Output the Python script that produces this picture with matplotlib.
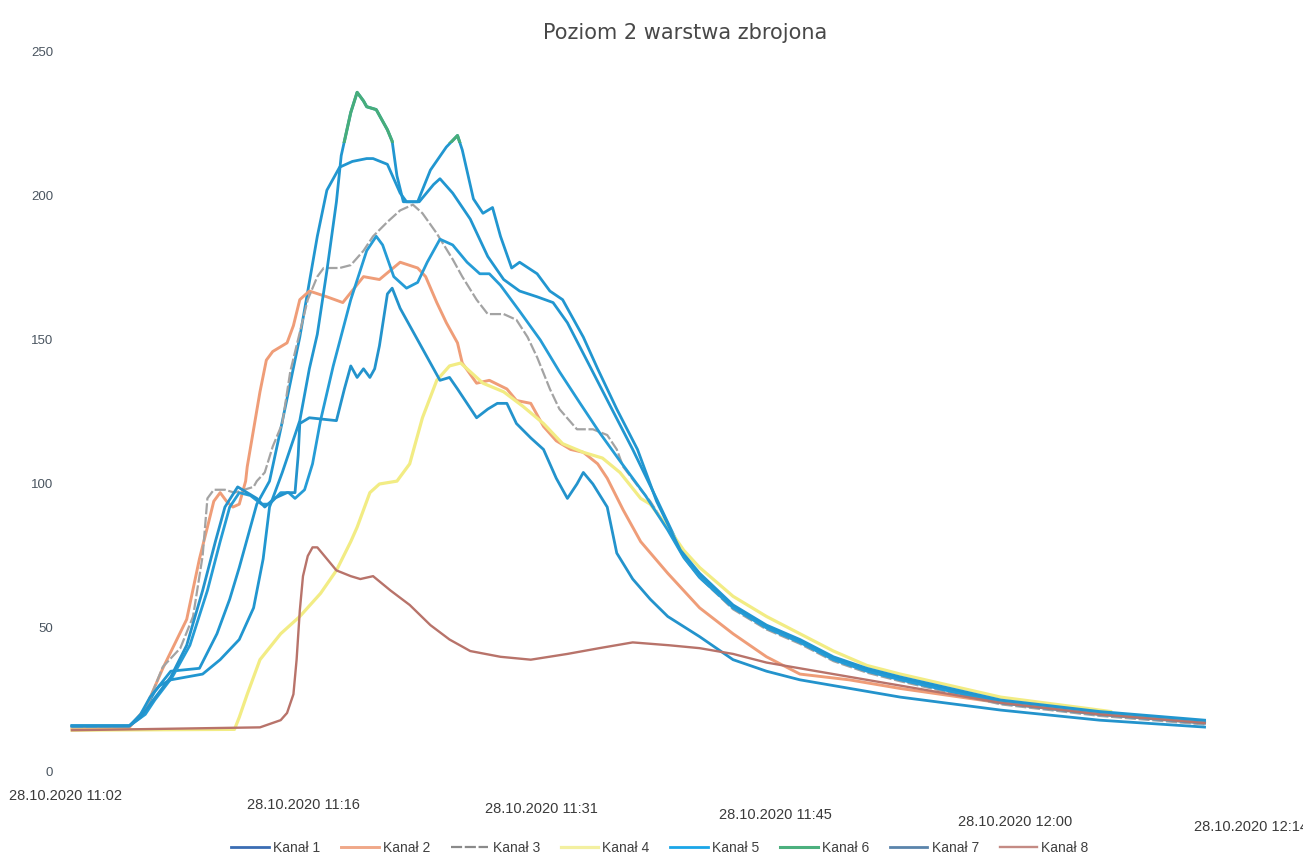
import matplotlib
matplotlib.use("Agg")
import matplotlib.pyplot as plt
import matplotlib.transforms as mtransforms
from matplotlib.patches import Rectangle

plt.rcParams['font.family'] = ['Liberation Sans', 'DejaVu Sans']

title = "Poziom 2 warstwa zbrojona"
series_names = ["Kanał 1", "Kanał 2", "Kanał 3", "Kanał 4", "Kanał 5", "Kanał 6", "Kanał 7", "Kanał 8"]

# time axis in minutes after the first sample (11:02); category labels as printed
tick_minutes = [-0.38, 14.56, 29.44, 44.19, 59.2, 74.0]
tick_labels = ["28.10.2020 11:02", "28.10.2020 11:16", "28.10.2020 11:31",
               "28.10.2020 11:45", "28.10.2020 12:00", "28.10.2020 12:14"]
y_ticks = [0, 50, 100, 150, 200, 250]

# Kanał 1
k1_t = [0, 3.6, 4.4, 5.2, 6.2, 8.0, 9.1, 9.9, 10.5, 11.2, 11.6, 12.4, 13.1, 14.3, 15.4, 16.0, 16.8, 17.6,
        18.5, 18.9, 19.8, 20.6, 21.0, 21.8, 22.7, 23.1, 23.9, 25.0, 26.1, 27.1, 28.1, 29.2, 30.2, 31.1, 32.5,
        33.8, 35.2, 36.6, 38.4, 39.4, 41.5, 43.6, 45.7, 47.8, 49.9, 52.0, 58.3, 64.5, 71.1]
k1_v = [16, 16, 20, 28, 35, 36, 48, 60, 71, 85, 93, 101, 119, 151, 186, 202, 210, 212,
        213, 213, 211, 201, 198, 198, 204, 206, 201, 192, 179, 171, 167, 165, 163, 156, 141,
        127, 112, 96, 75, 68.5, 57.5, 50.5, 45.5, 39.5, 35.5, 32.5, 24.5, 20.5, 17.5]

# Kanał 2
k2_t = [0, 3.6, 4.6, 5.7, 7.2, 8.0, 8.5, 8.9, 9.3, 9.7, 10.1, 10.5, 10.9, 11.0, 11.8, 12.2, 12.6, 13.5,
        13.9, 14.3, 14.9, 16.0, 17.0, 18.3, 19.3, 20.6, 21.7, 22.2, 22.9, 23.5, 24.2, 24.5, 25.4, 26.2,
        27.3, 27.9, 28.8, 29.6, 30.4, 31.3, 32.1, 33.0, 33.6, 34.6, 35.7, 37.4, 39.4, 41.5, 43.6, 45.7,
        48.8, 52.0, 58.3, 64.5, 71.1]
k2_v = [15, 15.5, 22, 36, 53, 74, 85, 94, 97, 94, 92, 93, 101, 106, 132, 143, 146, 149,
        155, 164, 167, 165, 163, 172, 171, 177, 175, 172, 163, 156, 149, 142, 135, 136,
        133, 129, 128, 120, 115, 112, 111, 107, 102, 91, 80, 69, 57, 48, 40, 34,
        32, 29, 24, 20, 17]

# Kanał 3
k3_t = [0, 3.6, 4.6, 5.7, 6.8, 7.6, 8.2, 8.5, 8.9, 9.6, 10.2, 11.4, 11.6, 12.1, 12.6, 13.2, 13.7, 14.8,
        15.4, 15.8, 16.8, 17.5, 18.3, 18.9, 19.8, 20.6, 21.4, 22.0, 22.9, 23.9, 24.5, 25.4, 26.1, 27.1,
        27.9, 28.6, 29.2, 30.0, 30.6, 31.7, 32.7, 33.6, 34.2, 34.6, 35.7, 36.3, 37.4, 38.4, 39.4, 41.5,
        43.6, 45.7, 47.8, 49.9, 52.0, 58.3, 64.5, 71.1]
k3_v = [15.5, 16, 21.5, 36.5, 43, 54, 75, 95, 98, 98, 97, 99, 101, 104, 113, 121, 139, 164,
        172, 175, 175, 176, 181, 186, 191, 195, 197, 194, 187, 178, 172, 164, 159, 159,
        157, 151, 144, 133, 126, 119, 119, 117, 112, 106, 98, 94, 84.5, 74.5, 67.5, 56.5,
        49.5, 44.5, 38.5, 34.5, 31.5, 23.5, 19.5, 16.5]

# Kanał 4
k4_t = [0, 10.2, 10.5, 11.0, 11.8, 13.1, 14.3, 15.6, 16.6, 17.5, 17.9, 18.7, 19.3, 20.4, 21.2, 22.0,
        22.9, 23.7, 24.4, 25.0, 25.8, 27.1, 28.3, 29.6, 30.8, 32.1, 33.3, 34.4, 35.7, 36.3, 37.4, 38.4,
        39.4, 41.5, 43.6, 45.7, 47.8, 49.9, 52.0, 58.3, 65.2]
k4_v = [14.5, 14.8, 19, 27, 39, 48, 54, 62, 70, 80, 85, 97, 100, 101, 107, 123,
        136, 141, 142, 139, 135, 132, 127, 121, 114, 111, 109, 104, 95, 93, 85, 77,
        71, 61, 54, 48, 42, 37, 34, 26, 21]

# Kanał 5
k5_t = [0, 3.6, 4.6, 5.2, 6.3, 7.4, 8.5, 9.3, 9.9, 10.5, 11.2, 11.9, 12.4, 13.1, 13.6, 14.0, 14.6, 15.1,
        15.6, 16.4, 17.5, 18.5, 19.1, 19.5, 20.2, 21.0, 21.7, 22.3, 23.1, 23.9, 24.8, 25.6, 26.2, 26.9,
        28.1, 29.4, 30.6, 31.9, 33.1, 34.4, 36.0, 37.4, 38.4, 39.4, 41.5, 43.6, 45.7, 47.8, 49.9, 52.0,
        58.3, 64.5, 71.1]
k5_v = [16, 16, 20, 25, 33, 44, 63, 80, 92, 97, 96, 93, 93, 97, 97, 95, 98, 107,
        122, 141, 164, 181, 186, 183, 172, 168, 170, 177, 185, 183, 177, 173, 173, 169,
        160, 150, 139, 128, 118, 108, 96, 84, 74.5, 67.5, 57, 50, 45, 39, 35, 32,
        24, 20, 17]

# Kanał 6
k6_t = [0, 3.6, 4.3, 4.9, 5.5, 6.2, 8.2, 9.3, 10.5, 11.4, 12.0, 12.4, 13.2, 14.3, 14.9, 15.4, 16.0, 16.6,
        16.9, 17.5, 17.9, 18.3, 18.5, 19.1, 19.8, 20.1, 20.4, 20.8, 21.7, 22.5, 23.5, 24.2, 24.5, 25.2,
        25.8, 26.4, 26.9, 27.6, 28.1, 29.2, 30.0, 30.8, 32.1, 33.0, 34.2, 35.5, 36.7, 38.2, 39.4, 41.5,
        43.6, 45.7, 47.8, 49.9, 52.0, 58.3, 64.5, 71.1]
k6_v = [16, 16, 20, 26, 30, 32, 34, 39, 46, 57, 74, 92, 104, 122, 140, 152, 174, 198,
        214, 229, 236, 233, 231, 230, 223, 219, 207, 198, 198, 209, 217, 221, 216, 199,
        194, 196, 186, 175, 177, 173, 167, 164, 151, 140, 126, 112, 94, 77, 69, 58,
        51, 46, 40, 36, 33, 25, 21, 18]

# Kanał 7
k7_t = [0, 3.6, 4.3, 5.1, 6.2, 7.2, 8.2, 9.0, 9.6, 10.4, 11.0, 11.6, 12.1, 12.7, 13.5, 14.0, 14.2, 14.3,
        14.9, 16.6, 17.1, 17.5, 17.9, 18.3, 18.7, 19.0, 19.3, 19.8, 20.1, 20.6, 21.2, 21.8, 22.5, 23.1,
        23.7, 24.2, 24.8, 25.4, 26.1, 26.7, 27.3, 27.9, 28.8, 29.6, 30.4, 31.1, 31.7, 32.1, 32.7, 33.6,
        34.2, 35.2, 36.3, 37.4, 39.4, 41.5, 43.6, 45.7, 49.9, 52.0, 58.3, 64.5, 71.1]
k7_v = [16, 16, 19, 25, 33, 44, 63, 80, 92, 99, 97, 95, 92, 95, 97, 97, 110, 121,
        123, 122, 133, 141, 137, 140, 137, 140, 148, 166, 168, 161, 155, 149, 142, 136,
        137, 133, 128, 123, 126, 128, 128, 121, 116, 112, 102, 95, 100, 104, 100, 92,
        76, 67, 60, 54, 47, 39, 35, 32, 28, 26, 21.5, 18, 15.6]

# Kanał 8
k8_t = [0, 11.8, 13.1, 13.5, 13.9, 14.1, 14.3, 14.5, 14.8, 15.1, 15.4, 16.0, 16.6, 17.5, 18.1, 18.9,
        20.0, 21.2, 22.5, 23.7, 25.0, 26.9, 28.8, 31.1, 33.1, 35.2, 37.5, 39.4, 41.5, 43.6, 45.7,
        47.8, 52.0, 58.3, 64.5, 71.1]
k8_v = [14.5, 15.5, 18, 20.5, 27, 39, 56, 68, 75, 78, 78, 74, 70, 68, 67, 68,
        63, 58, 51, 46, 42, 40, 39, 41, 43, 45, 44, 43, 41, 38, 36,
        34, 30, 24, 20, 17]

times = [k1_t, k2_t, k3_t, k4_t, k5_t, k6_t, k7_t, k8_t]
values = [k1_v, k2_v, k3_v, k4_v, k5_v, k6_v, k7_v, k8_v]

scan_blue = '#2196d0'
line_colors = [scan_blue, '#ef9d78', '#a3a3a3', '#f2ec84', '#259cd6', scan_blue, '#2393cc', '#b8736a']
line_widths = [2.0, 2.1, 1.6, 2.3, 2.0, 2.0, 2.0, 1.7]
legend_colors = ['#3a6db3', '#f0a888', '#8a8a8a', '#f3f0a0', '#1aa6e8', '#4cb07e', '#5a84ab', '#c48b84']
green = '#47ad7a'
green_threshold = 218.5

fig = plt.figure(figsize=(13.03, 8.65), dpi=100)
ax = fig.add_axes([65 / 1303, 1 - 772 / 865, 1238 / 1303, 720 / 865])

handles = []
for i, (t, v) in enumerate(zip(times, values)):
    if i == 5:
        # printed copy: channel 6 shows blue except its peaks
        ax.plot(t, v, color=scan_blue, lw=line_widths[i], zorder=2 + i, solid_joinstyle='round')
        gl, = ax.plot(t, v, color=green, lw=line_widths[i] + 0.2, zorder=2.5 + i,
                      label=series_names[i], solid_joinstyle='round')
        gl.set_clip_path(Rectangle((-5, green_threshold), 100, 100, transform=ax.transData))
        handles.append(gl)
    elif i == 2:
        ln, = ax.plot(t, v, color=line_colors[i], lw=line_widths[i], zorder=2 + i,
                      dashes=(5, 1.2), label=series_names[i])
        handles.append(ln)
    else:
        ln, = ax.plot(t, v, color=line_colors[i], lw=line_widths[i], zorder=2 + i,
                      label=series_names[i], solid_joinstyle='round')
        handles.append(ln)

ax.set_xlim(-0.44, 77.28)
ax.set_ylim(0, 250)
ax.set_yticks(y_ticks)
ax.set_yticklabels([str(y) for y in y_ticks])
ax.set_xticks(tick_minutes)
ax.set_xticklabels(tick_labels)
for s in ax.spines.values():
    s.set_visible(False)
ax.tick_params(axis='y', length=0, pad=8.6, labelsize=9.5, labelcolor='#4a5560')
ax.tick_params(axis='x', length=0, pad=15, labelsize=10.5, labelcolor='#3a3a3a')

# scanned page is slightly skewed: labels drift down to the right
drops = [-4, 5, 9, 15, 22, 27]
for lab, dy in zip(ax.get_xticklabels(), drops):
    lab.set_transform(lab.get_transform() +
                      mtransforms.ScaledTranslation(0, -dy / 100, fig.dpi_scale_trans))

fig.text(685 / 1303, 1 - 33 / 865, title, ha='center', va='center', fontsize=15,
         color='#484848', fontfamily='DejaVu Sans')

leg = fig.legend(handles=handles, loc='center', bbox_to_anchor=(660 / 1303, 1 - 848 / 865), ncol=8,
                 frameon=False, fontsize=10, handlelength=2.7, handletextpad=0.3, columnspacing=1.5,
                 labelcolor='#404040')
for h, c in zip(leg.legend_handles, legend_colors):
    h.set_color(c)
    h.set_clip_path(None)
    h.set_clip_on(False)

fig.savefig('out.png', dpi=100)
